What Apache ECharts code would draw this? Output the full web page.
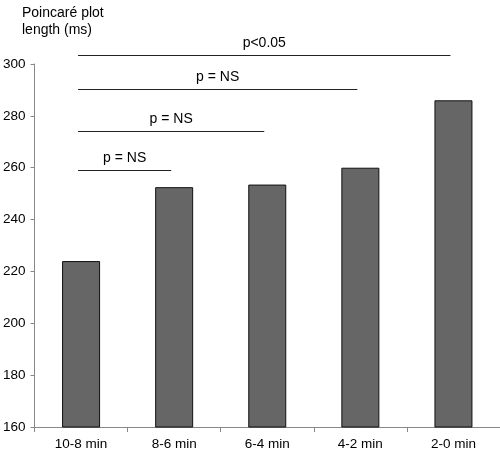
<!DOCTYPE html>
<html>
<head>
<meta charset="utf-8">
<script src="https://cdn.jsdelivr.net/npm/echarts@6/dist/echarts.min.js"></script>
<style>html,body{margin:0;padding:0;background:#fff}#c{width:500px;height:451px}</style>
</head>
<body>
<div id="c"></div>
<script>
var categories = ['10-8 min', '8-6 min', '6-4 min', '4-2 min', '2-0 min'];
var values = [224, 252.5, 253.5, 260, 286];
var yTicks = {min: 160, max: 300, interval: 20};
var sigFrom = [0, 0, 0, 0];
var sigTo = [4, 3, 2, 1];
var sigValue = [303.5, 290.3, 274.2, 259];
var sigLabel = ['p<0.05', 'p = NS', 'p = NS', 'p = NS'];

var FONT = '"Liberation Sans", Arial, sans-serif';
var sigData = sigFrom.map(function (f, i) { return [f, sigTo[i], sigValue[i], sigLabel[i]]; });

var chart = echarts.init(document.getElementById('c'), null, {renderer: 'canvas'});
chart.setOption({
  animation: false,
  backgroundColor: '#fff',
  title: {
    text: 'Poincaré plot\nlength (ms)',
    left: 17, top: 0,
    textStyle: {fontFamily: FONT, fontSize: 14, fontWeight: 'normal', color: '#000', lineHeight: 17}
  },
  grid: {left: 33, right: 0, top: 64, bottom: 24, containLabel: false},
  xAxis: {
    type: 'category',
    data: categories,
    boundaryGap: true,
    axisLine: {lineStyle: {color: '#888', width: 1}},
    axisTick: {show: true, length: 5, lineStyle: {color: '#888'}},
    axisLabel: {fontFamily: FONT, fontSize: 13.5, color: '#000', margin: 10}
  },
  yAxis: {
    type: 'value',
    min: yTicks.min, max: yTicks.max, interval: yTicks.interval,
    axisLine: {show: true, lineStyle: {color: '#888', width: 1}},
    axisTick: {show: true, length: 4, lineStyle: {color: '#888'}},
    splitLine: {show: false},
    axisLabel: {fontFamily: FONT, fontSize: 13.5, color: '#000', margin: 9}
  },
  series: [
    {
      type: 'bar',
      data: values,
      barWidth: 38,
      itemStyle: {color: '#666666', borderColor: '#111', borderWidth: 1}
    },
    {
      type: 'custom',
      clip: false,
      data: sigData,
      encode: {x: [0, 1], y: 2},
      renderItem: function (params, api) {
        var p0 = api.coord([api.value(0), api.value(2)]);
        var p1 = api.coord([api.value(1), api.value(2)]);
        var x0 = p0[0] - 3, x1 = p1[0] - 3;
        var y = Math.round(p0[1]) + 0.5;
        return {
          type: 'group',
          children: [
            {type: 'line', shape: {x1: x0, y1: y, x2: x1, y2: y}, style: {stroke: '#222', lineWidth: 1}},
            {type: 'text', style: {text: sigLabel[params.dataIndex], x: (x0 + x1) / 2, y: y - 12,
              textAlign: 'center', textVerticalAlign: 'middle', font: '14px ' + FONT, fill: '#000'}}
          ]
        };
      }
    }
  ]
});
</script>
</body>
</html>
